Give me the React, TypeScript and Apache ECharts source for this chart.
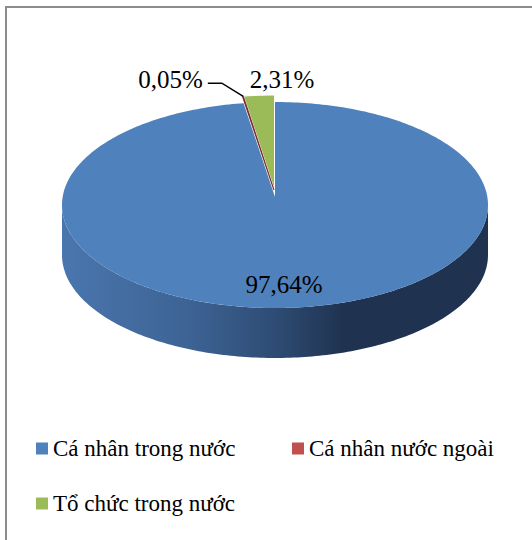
import React, { useEffect, useRef } from 'react';
import * as echarts from 'echarts';

// ---- data ----
const categories = ['Cá nhân trong nước', 'Cá nhân nước ngoài', 'Tổ chức trong nước'];
const shares = [97.64, 0.05, 2.31];
const colors = ['#4F81BD', '#C0504D', '#9BBB59'];

const total = shares.reduce((a, b) => a + b, 0);
const starts = shares.map((_, i) => shares.slice(0, i).reduce((a, b) => a + b, 0));
const fmt = (v: number) => v.toFixed(2).replace('.', ',') + '%';

// ---- style / geometry ----
const CX = 275, CY = 205, RX = 213, RY = 103, DEPTH = 50, APEX_DY = -8;
const explode = [0, 7, 7];
const strokes = ['none', '#7A2E2C', '#FFFFFF'];
const strokeW = [0, 1.2, 1];
const FONT = "'Liberation Serif', 'Times New Roman', serif";
// label placement: 'inside' -> radius fraction; 'outside' -> offset from rim mid point
const labelModes = ['inside', 'outside', 'outside'];
const labelOffsets: number[][] = [[-3, 0], [-40, -17], [23, -16]];
const labelAligns = ['center', 'right', 'center'];
const leaderPts: number[][][] = [[], [[0, 0], [-21, -13], [-35, -13]], []];
const wallStops = [
  [
    { offset: 0, color: '#4A76AE' },
    { offset: 0.3, color: '#3D6394' },
    { offset: 0.5, color: '#2E4C74' },
    { offset: 0.66, color: '#1F3350' },
    { offset: 1, color: '#1F3350' },
  ],
  [{ offset: 0, color: '#8E3B39' }, { offset: 1, color: '#5E2726' }],
  [{ offset: 0, color: '#7A9446' }, { offset: 1, color: '#55672F' }],
];

function makeRender(i: number) {
  return (_params: any, api: any) => {
    const start = api.value(0) as number;
    const val = api.value(1) as number;
    const tot = api.value(2) as number;
    const a0 = -Math.PI / 2 + (2 * Math.PI * start) / tot;
    const a1 = a0 + (2 * Math.PI * val) / tot;
    const mid = (a0 + a1) / 2;
    const ex = explode[i];
    const dx = Math.cos(mid) * ex;
    const dy = Math.sin(mid) * ex;
    const pt = (a: number, yOff = 0) => [CX + dx + RX * Math.cos(a), CY + dy + RY * Math.sin(a) + yOff];
    const arc = (from: number, to: number, yOff = 0) => {
      const n = Math.max(2, Math.ceil(Math.abs(to - from) / (Math.PI / 180)));
      const pts: number[][] = [];
      for (let k = 0; k <= n; k++) pts.push(pt(from + ((to - from) * k) / n, yOff));
      return pts;
    };
    const children: any[] = [];
    for (const off of [0, 2 * Math.PI, -2 * Math.PI]) {
      const f0 = Math.max(a0, off);
      const f1 = Math.min(a1, off + Math.PI);
      if (f1 > f0) {
        const top = arc(f0, f1);
        const bot = arc(f1, f0, DEPTH);
        children.push({
          type: 'polygon',
          shape: { points: top.concat(bot) },
          style: {
            fill: {
              type: 'linear', x: CX - RX, y: 0, x2: CX + RX, y2: 0, global: true,
              colorStops: wallStops[i],
            },
          },
        });
      }
    }
    const apex = [CX + dx, CY + dy + APEX_DY];
    children.push({
      type: 'polygon',
      shape: { points: [apex, ...arc(a0, a1)] },
      style: { fill: colors[i], stroke: strokes[i], lineWidth: strokeW[i] },
    });
    let lx: number, ly: number;
    if (labelModes[i] === 'inside') {
      const f = 0.77;
      lx = CX + dx + RX * f * Math.cos(mid) + labelOffsets[i][0];
      ly = CY + dy + RY * f * Math.sin(mid) + labelOffsets[i][1];
    } else {
      const rim = pt(mid);
      lx = rim[0] + labelOffsets[i][0];
      ly = rim[1] + labelOffsets[i][1];
      if (leaderPts[i].length) {
        children.push({
          type: 'polyline',
          shape: { points: leaderPts[i].map((p) => [rim[0] + p[0], rim[1] + p[1]]) },
          style: { stroke: '#000', lineWidth: 1.5, fill: 'none' },
        });
      }
    }
    children.push({
      type: 'text',
      x: lx,
      y: ly,
      style: {
        text: fmt(val),
        fill: '#000',
        font: `25px ${FONT}`,
        align: labelAligns[i],
        verticalAlign: 'middle',
      },
    });
    return { type: 'group', children };
  };
}

export default function App() {
  const ref = useRef<HTMLDivElement>(null);
  useEffect(() => {
    if (!ref.current) return;
    const chart = echarts.init(ref.current, undefined, { renderer: 'svg' });
    const legendPos = [
      { left: 36, top: 437 },
      { left: 292, top: 437 },
      { left: 36, top: 492 },
    ];
    chart.setOption({
      animation: false,
      backgroundColor: '#fff',
      graphic: [
        {
          type: 'rect',
          z: -10,
          shape: { x: 6, y: 7, width: 600, height: 600 },
          style: { fill: 'none', stroke: '#8C8C8C', lineWidth: 2 },
        },
      ],
      legend: categories.map((c, i) => ({
        data: [c],
        ...legendPos[i],
        padding: 0,
        icon: 'rect',
        itemWidth: 12,
        itemHeight: 12,
        selectedMode: false,
        textStyle: { fontFamily: FONT, fontSize: 23, color: '#000' },
      })),
      series: categories.map((c, i) => ({
        type: 'custom',
        name: c,
        coordinateSystem: 'none',
        z: i === 1 ? 3 : 2,
        itemStyle: { color: colors[i] },
        data: [[starts[i], shares[i], total]],
        renderItem: makeRender(i),
      })),
    });
    return () => chart.dispose();
  }, []);
  return (
    <div
      ref={ref}
      style={{ position: 'fixed', left: 0, top: 0, width: 532, height: 540 }}
    />
  );
}
